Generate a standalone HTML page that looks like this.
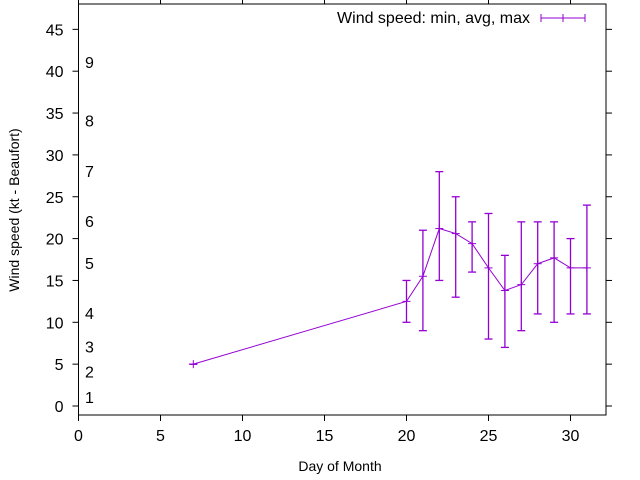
<!DOCTYPE html>
<html><head><meta charset="utf-8"><style>
body{margin:0;background:#fff}
svg{display:block;font-family:"Liberation Sans",sans-serif}
</style></head><body>
<svg id="chart" width="640" height="480" viewBox="0 0 640 480">
<g id="axes"></g>
<g id="plot"></g>
<g id="legend">
<text x="530" y="23" font-size="16" text-anchor="end" fill="#000">Wind speed: min, avg, max</text>
<line x1="541" y1="18" x2="585" y2="18" stroke="#9400d3" stroke-width="1"/>
<line x1="541" y1="14" x2="541" y2="22" stroke="#9400d3"/>
<line x1="585" y1="14" x2="585" y2="22" stroke="#9400d3"/>
<line x1="563" y1="14" x2="563" y2="22" stroke="#9400d3"/>
</g>
<text x="340" y="471" font-size="14" text-anchor="middle">Day of Month</text>
<text transform="translate(19,210) rotate(-90)" font-size="14" text-anchor="middle">Wind speed (kt - Beaufort)</text>
</svg>
<script>
const days=[7,20,21,22,23,24,25,26,27,28,29,30,31];
const avgs=[5,12.5,15.5,21.2,20.6,19.4,16.5,13.8,14.5,17,17.7,16.5,16.5];
const mins=[5,10,9,15,13,16,8,7,9,11,10,11,11];
const maxs=[5,15,21,28,25,22,23,18,22,22,22,20,24];
const xTicks=[0,5,10,15,20,25,30];
const yTicks=[0,5,10,15,20,25,30,35,40,45];
const beaufortLabels=["1","2","3","4","5","6","7","8","9"];
const beaufortPos=[1.1,4.1,7.1,11.1,17.1,22.1,28.1,34.1,41.1];
const L=78.5,R=606,T=4,B=415;
const xs=v=>78.5+v*16.4;
const ys=v=>406-v*8.37;
const NS="http://www.w3.org/2000/svg";
function mk(tag,attrs,parent){const e=document.createElementNS(NS,tag);for(const k in attrs)e.setAttribute(k,attrs[k]);parent.appendChild(e);return e;}
const ax=document.getElementById('axes');
let f=mk('rect',{x:L,y:T,width:R-L,height:B-T,fill:'none',stroke:'#000','stroke-width':1},ax);


xTicks.forEach(t=>{
 const x=xs(t);
 let a=mk('line',{x1:x,y1:B,x2:x,y2:B+6,stroke:'#000'},ax);
 
 
 let b=mk('line',{x1:x,y1:T,x2:x,y2:T-6,stroke:'#000'},ax);
 
 
 let tx=mk('text',{x:x,y:441,'font-size':16,'text-anchor':'middle'},ax);tx.textContent=t;
 
 
});
yTicks.forEach(t=>{
 const y=ys(t);
 let a=mk('line',{x1:L-6,y1:y,x2:L,y2:y,stroke:'#000'},ax);
 
 
 let b=mk('line',{x1:R,y1:y,x2:R+6,y2:y,stroke:'#000'},ax);
 
 
 let tx=mk('text',{x:L-15,y:y+6,'font-size':16,'text-anchor':'end'},ax);tx.textContent=t;
 
 
});
beaufortLabels.forEach((s,i)=>{
 let tx=mk('text',{x:85,y:ys(beaufortPos[i])+6,'font-size':16},ax);tx.textContent=s;
 
 
});
const pl=document.getElementById('plot');
const C='#9400d3';
let pts=days.map((d,i)=>xs(d)+','+ys(avgs[i])).join(' ');
let line=mk('polyline',{points:pts,fill:'none',stroke:C,'stroke-width':1},pl);


days.forEach((d,i)=>{
 const x=xs(d),y1=ys(mins[i]),y2=ys(maxs[i]),y=ys(avgs[i]);
 let g=mk('g',{},pl);
 
 
 mk('line',{x1:x,y1:y1,x2:x,y2:y2,stroke:C,'stroke-width':1.3},g);
 mk('line',{x1:x-4,y1:y1,x2:x+4,y2:y1,stroke:C,'stroke-width':1.3},g);
 mk('line',{x1:x-4,y1:y2,x2:x+4,y2:y2,stroke:C,'stroke-width':1.3},g);
 mk('line',{x1:x-4,y1:y,x2:x+4,y2:y,stroke:C,'stroke-width':1},g);
 mk('line',{x1:x,y1:y-4,x2:x,y2:y+4,stroke:C,'stroke-width':1},g);
});
</script>
</body></html>
